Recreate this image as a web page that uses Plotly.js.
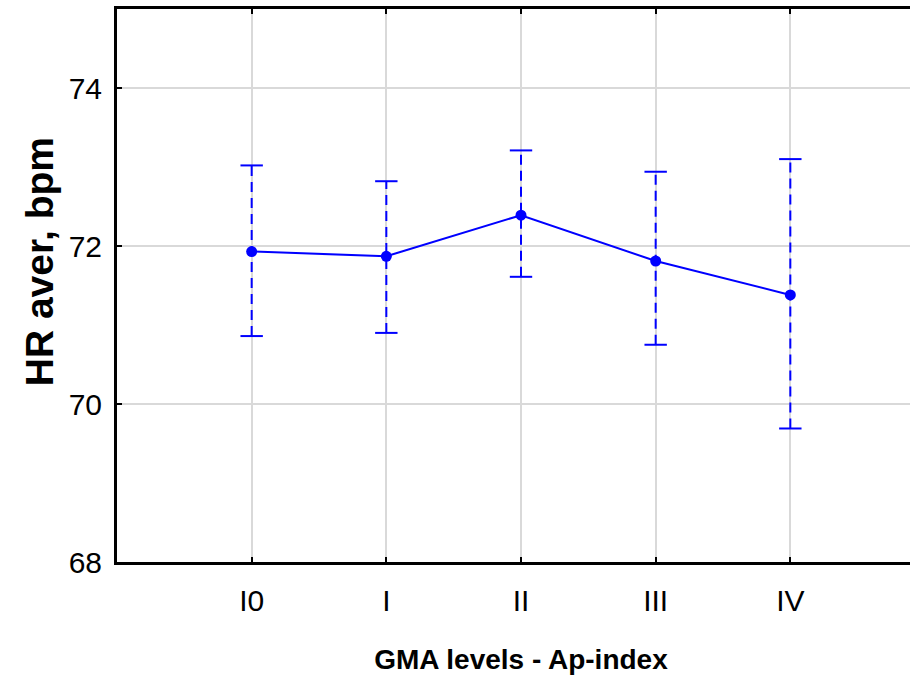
<!DOCTYPE html>
<html>
<head>
<meta charset="utf-8">
<script src="https://cdn.plot.ly/plotly-3.0.1.min.js"></script>
<style>
html,body{margin:0;padding:0;background:#fff;overflow:hidden;width:910px;height:687px;}
#chart{width:925px;height:687px;}
</style>
</head>
<body>
<div id="chart"></div>
<script>
// Data
var categories = ["I0", "I", "II", "III", "IV"];
var hrMean  = [71.93, 71.87, 72.39, 71.81, 71.38];
var hrUpper = [73.02, 72.82, 73.21, 72.94, 73.10];
var hrLower = [70.86, 70.90, 71.61, 70.75, 69.69];
var yTicks = [68, 70, 72, 74];

var blue = "#0000FF";
var sans = "Liberation Sans, Arial, sans-serif";

// dashed whisker segments
var wx = [], wy = [];
for (var i = 0; i < categories.length; i++) {
  wx.push(categories[i], categories[i], null);
  wy.push(hrLower[i], hrUpper[i], null);
}
var capX = categories.concat(categories);
var capY = hrLower.concat(hrUpper);

var traces = [
  {
    x: wx, y: wy, type: "scatter", mode: "lines",
    line: {color: blue, width: 2, dash: "10px,6px"},
    hoverinfo: "skip", showlegend: false, connectgaps: false
  },
  {
    x: capX, y: capY, type: "scatter", mode: "markers",
    marker: {symbol: "line-ew", size: 16, color: blue, line: {color: blue, width: 2}},
    hoverinfo: "skip", showlegend: false
  },
  {
    x: categories, y: hrMean, type: "scatter", mode: "lines+markers",
    line: {color: blue, width: 2},
    marker: {symbol: "circle", size: 11, color: blue},
    showlegend: false
  }
];

var layout = {
  width: 925, height: 687,
  margin: {l: 117, r: 0, t: 9, b: 125, pad: 0},
  paper_bgcolor: "#fff", plot_bgcolor: "#fff",
  showlegend: false,
  xaxis: {
    type: "category",
    categoryorder: "array", categoryarray: categories,
    range: [-1, 5],
    showgrid: true, gridcolor: "#d9d9d9", gridwidth: 2,
    showline: true, linecolor: "#000", linewidth: 3,
    mirror: "ticks",
    ticks: "inside", ticklen: 5, tickwidth: 2, tickcolor: "#000",
    tickfont: {family: sans, size: 30, color: "#000"},
    ticklabelstandoff: 10,
    zeroline: false,
    automargin: false,
    title: {text: "GMA levels - Ap-index", font: {family: sans, size: 28, color: "#000", weight: "bold"}, standoff: 34}
  },
  yaxis: {
    range: [68, 75],
    tickvals: yTicks, ticktext: yTicks.map(String),
    showgrid: true, gridcolor: "#d9d9d9", gridwidth: 2,
    showline: true, linecolor: "#000", linewidth: 3,
    mirror: false,
    ticks: "inside", ticklen: 5, tickwidth: 2, tickcolor: "#000",
    tickfont: {family: sans, size: 30, color: "#000"},
    ticklabelstandoff: 6,
    zeroline: false,
    automargin: false
  },
  annotations: [{
    text: "<b>HR aver, bpm</b>",
    textangle: -90,
    xref: "paper", yref: "paper",
    x: 0, y: 0.542,
    xanchor: "center", yanchor: "middle",
    xshift: -78,
    showarrow: false,
    font: {family: sans, size: 39, color: "#000"}
  }]
};

Plotly.newPlot("chart", traces, layout, {staticPlot: true, displayModeBar: false});
</script>
</body>
</html>
